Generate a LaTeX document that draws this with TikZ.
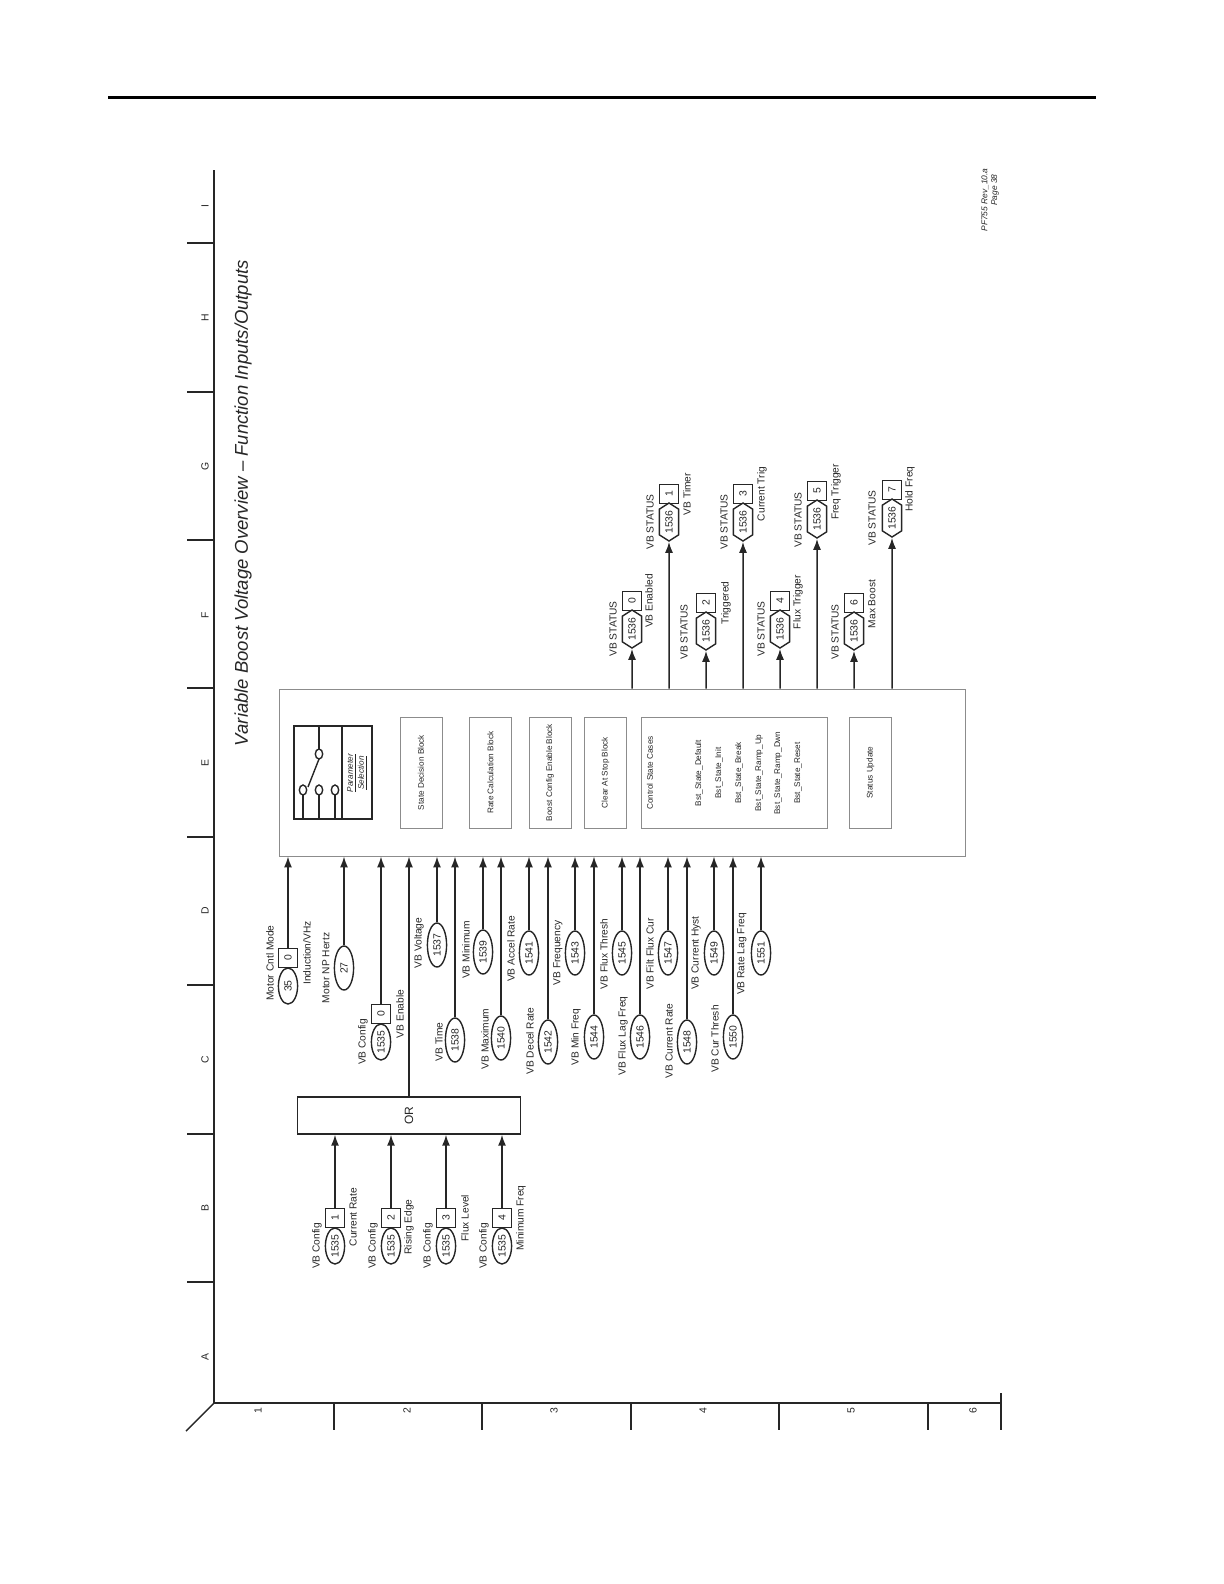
\documentclass[tikz,border=0pt]{standalone}
\usepackage{fontspec}
\setmainfont{Liberation Sans}
\usepackage{xcolor}
\usetikzlibrary{arrows.meta,shapes.geometric,shapes.symbols}
\definecolor{ink}{HTML}{262626}
\definecolor{rim}{HTML}{8C8C8C}
\newcommand{\fs}[1]{\fontsize{#1}{#1}\selectfont}
\tikzset{
  frame/.style={draw=ink, line width=0.7pt},
  rim/.style={draw=rim, line width=0.45pt},
  sig/.style={draw=ink, line width=0.75pt, -{Latex[length=5.5pt,width=4pt]}},
  dark/.style={draw=ink, line width=0.7pt},
  lab/.style={text=ink, rotate=90, inner sep=0pt, font=\fs{5.1}},
  tag/.style={text=ink, rotate=90, inner sep=0pt, font=\fs{5.2}},
  small/.style={text=ink, rotate=90, inner sep=0pt, font=\fs{4.1}},
  blk/.style={rim, text=ink, rotate=90, inner sep=0pt, font=\fs{4.1},
    minimum width=55.5pt, minimum height=21pt},
  parm/.style={ellipse, dark, text=ink, rotate=90, inner sep=0pt, font=\fs{5.2},
    minimum width=22pt, minimum height=9.6pt},
  parms/.style={parm, minimum width=18pt},
  hexa/.style={signal, signal to=east and west, signal pointer angle=115, dark, text=ink,
    rotate=90, inner sep=0pt, font=\fs{5.2}, minimum width=19pt, minimum height=9.6pt},
  bit/.style={rectangle, dark, text=ink, rotate=90, inner sep=0pt, font=\fs{5.2},
    minimum size=9.4pt},
}
\begin{document}
\begin{tikzpicture}[x=0.5pt,y=-0.5pt]
  \useasboundingbox (0,0) rectangle (1224,1584);

  % page rule
  \draw[draw=black, line width=1.5pt] (108,98) -- (1096,98);

  % sheet frame
  \draw[frame] (214,170) -- (214,1403) -- (1001,1403);
  \draw[frame] (214,1403) -- (186,1431);
  \foreach \y in {243,392,540,688,837,985,1134,1282}
    \draw[frame] (187,\y) -- (214,\y);
  \foreach \x in {334,482,631,779,928}
    \draw[frame] (\x,1403) -- (\x,1430);
  \draw[frame] (1001,1393) -- (1001,1430);
  \foreach \t/\y in {I/206,H/318,G/466,F/615,E/763,D/911,C/1060,B/1208,A/1357}
    \node[tag] (row\t) at (205,\y) {\t};
  \foreach \t/\x in {1/258,2/407,3/554,4/703,5/851,6/973}
    \node[tag] (col\t) at (\x,1411) {\t};

  \node[text=ink, rotate=90, inner sep=0pt, font=\fs{9.25}\itshape] (title) at (243,503)
    {Variable Boost Voltage Overview -- Function Inputs/Outputs};
  \node[tag, font=\fs{4.2}\itshape] (rev) at (985,200) {PF755 Rev\_10.a};
  \node[tag, font=\fs{4.2}\itshape] (page) at (995,190) {Page 38};

  % main block
  \node[rim, minimum width=343pt, minimum height=83.5pt] (main) at (622,772.5) {};

  % parameter selection
  \draw[dark] (294,726) rectangle (372,819);
  \draw[dark] (342,726) -- (342,819);
  \draw[dark] (319,726) -- (319,749);
  \draw[dark] (319,754) ellipse (3.7 and 5);
  \foreach \x in {303,319,335} {
    \draw[dark] (\x,790) ellipse (3.7 and 5);
    \draw[dark] (\x,795) -- (\x,819);
  }
  \draw[dark] (319,759) -- (308,787);
  \node[small, font=\fs{4.1}\itshape] (par) at (352,773) {\underline{Parameter}};
  \node[small, font=\fs{4.1}\itshape] (sel) at (363,773) {\underline{Selection}};

  \node[blk] (state) at (421,772.5) {State Decision Block};
  \node[blk] (rate) at (490.5,772.5) {Rate Calculation Block};
  \node[blk] (boost) at (550,772.5) {Boost Config Enable Block};
  \node[blk] (clear) at (605.5,772.5) {Clear At Stop Block};
  \node[blk] (update) at (870.5,772.5) {Status Update};

  % control state cases
  \node[rim, minimum width=93pt, minimum height=55.5pt] (ctrl) at (734,772.5) {};
  \node[small] (cases) at (650,773) {Control State Cases};
  \foreach \t/\x in {Default/699,Init/719,Break/739,Ramp\_Up/759,Ramp\_Dwn/778,Reset/798}
    \node[small] (bst\x) at (\x,773) {Bst\_State\_\t};

  % OR block
  \node[dark, minimum width=111.5pt, minimum height=18.5pt] (orb) at (409,1115.5) {};
  \node[text=ink, rotate=90, inner sep=0pt, font=\fs{6}] (ortxt) at (orb) {OR};
  \draw[sig] (orb) -- (orb |- main.south);

  % inputs to OR
  \foreach \x/\n in {335/1,391/2,446/3,502/4} {
    \node[bit] (c\n) at (\x,1218) {\n};
    \node[parms] (e\n) at (\x,1246) {1535};
    \draw[sig] (c\n) -- (c\n |- orb.south);
  }
  \foreach \x in {317,373,428,484}
    \node[lab] (cfg\x) at (\x,1246) {VB Config};
  \node[lab] (rt1) at (353,1217) {Current Rate};
  \node[lab] (rt2) at (409,1227) {Rising Edge};
  \node[lab] (rt3) at (465,1218) {Flux Level};
  \node[lab] (rt4) at (521,1218) {Minimum Freq};

  % bit inputs
  \node[bit] (m0) at (288,958) {0};
  \node[parms] (m35) at (288,986) {35};
  \draw[sig] (m0) -- (m0 |- main.south);
  \node[lab] (mlab) at (270,963) {Motor Cntl Mode};
  \node[lab] (mbit) at (307,953) {Induction/VHz};
  \node[parm] (p27) at (344,968) {27};
  \draw[sig] (p27) -- (p27 |- main.south);
  \node[lab] (nplab) at (326,968) {Motor NP Hertz};
  \node[bit] (en0) at (381,1014) {0};
  \node[parms] (en) at (381,1042) {1535};
  \draw[sig] (en0) -- (en0 |- main.south);
  \node[lab] (enlab) at (363,1042) {VB Config};
  \node[lab] (enbit) at (400,1014) {VB Enable};

  % parameter inputs
  \foreach \x/\y/\n in {437/945/1537,455/1040/1538,483/952/1539,501/1038/1540,
    529/953/1541,548/1042/1542,575/953/1543,594/1037/1544,622/953/1545,640/1037/1546,
    668/953/1547,687/1042/1548,714/953/1549,733/1037/1550,761/953/1551} {
    \node[parm] (p\n) at (\x,\y) {\n};
    \draw[sig] (p\n) -- (p\n |- main.south);
  }
  \foreach \t/\x/\y [count=\i] in {VB Voltage/419/943,VB Time/439/1042,VB Minimum/466/950,
    VB Maximum/485/1039,VB Accel Rate/511/949,VB Decel Rate/530/1041,VB Frequency/558/953,
    VB Min Freq/576/1037,VB Flux Thresh/604/954,VB Flux Lag Freq/623/1036,
    VB Filt Flux Cur/650/954,VB Current Rate/669/1041,VB Current Hyst/696/953,
    VB Cur Thresh/715/1039,VB Rate Lag Freq/742/954}
    \node[lab] (par\i) at (\x,\y) {\t};

  % status outputs
  \foreach \x/\y/\n in {632/629/0,669/522/1,706/631/2,743/522/3,780/629/4,817/519/5,854/631/6,892/518/7} {
    \node[hexa] (h\n) at (\x,\y) {1536};
    \node[bit] (b\n) at (\x,\y-28) {\n};
    \draw[sig] (h\n |- main.north) -- (h\n);
  }
  \foreach \x/\y [count=\i] in {613/629,650/522,684/632,724/522,761/629,798/520,835/632,872/518}
    \node[lab] (st\i) at (\x,\y) {VB STATUS};
  \foreach \t/\x/\y [count=\i] in {VB Enabled/649/601,VB Timer/687/494,Triggered/726/603,
    Current Trig/762/494,Flux Trigger/798/602,Freq Trigger/836/492,Max Boost/872/604,Hold Freq/910/489}
    \node[lab] (out\i) at (\x,\y) {\t};
\end{tikzpicture}
\end{document}
